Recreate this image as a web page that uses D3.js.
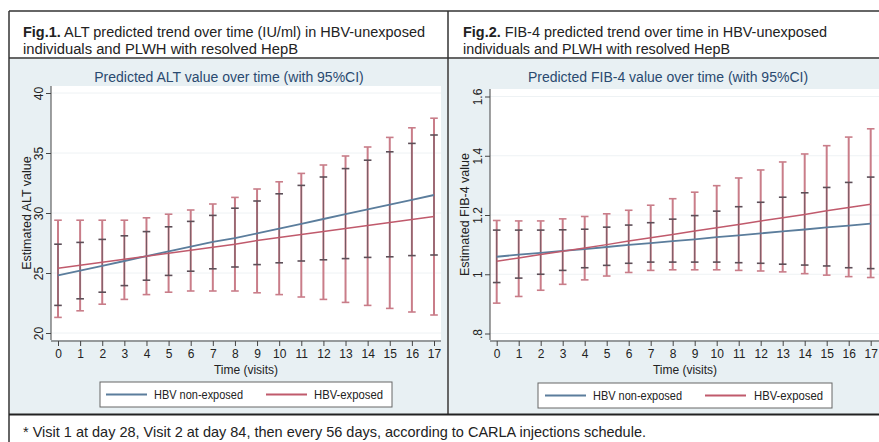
<!DOCTYPE html>
<html>
<head>
<meta charset="utf-8">
<script src="https://cdn.jsdelivr.net/npm/d3@7"></script>
<style>
html,body{margin:0;padding:0;background:#fff;}
svg{display:block;font-family:"Liberation Sans",Arial,sans-serif;}
</style>
</head>
<body>
<svg id="c" width="879" height="442"></svg>
<script>
// ---------- DATA ----------
const visits = [0,1,2,3,4,5,6,7,8,9,10,11,12,13,14,15,16,17];

// Fig.1 ALT
const altNonExpMean = [24.8,25.2,25.6,26.0,26.4,26.8,27.2,27.6,27.9,28.3,28.7,29.1,29.5,29.9,30.3,30.7,31.1,31.5];
const altNonExpLo   = [22.3,22.85,23.4,23.95,24.4,24.8,25.15,25.35,25.5,25.7,25.85,26.0,26.1,26.2,26.3,26.35,26.45,26.5];
const altNonExpHi   = [27.4,27.55,27.8,28.1,28.45,28.85,29.3,29.8,30.4,31.0,31.6,32.3,33.0,33.7,34.4,35.1,35.8,36.5];
const altExpMean    = [25.4,25.65,25.9,26.15,26.4,26.65,26.9,27.15,27.4,27.7,27.95,28.2,28.45,28.7,28.95,29.2,29.45,29.7];
const altExpLo      = [21.3,21.85,22.4,22.8,23.2,23.4,23.5,23.5,23.5,23.35,23.2,23.0,22.8,22.55,22.3,22.05,21.75,21.5];
const altExpHi      = [29.4,29.4,29.4,29.4,29.6,29.9,30.25,30.75,31.3,32.0,32.6,33.3,34.0,34.75,35.5,36.3,37.1,37.9];
const altTicks = [20,25,30,35,40];

// Fig.2 FIB-4
const fibNonExpMean = [1.059,1.066,1.072,1.079,1.085,1.092,1.099,1.105,1.112,1.118,1.125,1.131,1.138,1.145,1.151,1.158,1.164,1.171];
const fibNonExpLo   = [0.972,0.987,1.0,1.013,1.022,1.03,1.037,1.041,1.041,1.041,1.041,1.039,1.037,1.034,1.031,1.028,1.022,1.019];
const fibNonExpHi   = [1.149,1.149,1.149,1.15,1.152,1.159,1.166,1.174,1.186,1.198,1.213,1.228,1.243,1.26,1.275,1.293,1.31,1.328];
const fibExpMean    = [1.044,1.055,1.067,1.078,1.089,1.100,1.112,1.123,1.134,1.146,1.157,1.168,1.180,1.191,1.202,1.214,1.225,1.236];
const fibExpLo      = [0.9025,0.925,0.946,0.966,0.981,0.994,1.006,1.013,1.015,1.015,1.015,1.013,1.011,1.008,1.002,0.997,0.992,0.989];
const fibExpHi      = [1.1815,1.18,1.18,1.187,1.195,1.204,1.216,1.233,1.255,1.277,1.299,1.325,1.352,1.379,1.406,1.434,1.463,1.491];
const fibTicks = [0.8,1.0,1.2,1.4,1.6];
const fibTickLabels = [".8","1","1.2","1.4","1.6"];

const seriesNames = ["HBV non-exposed","HBV-exposed"];
const fig1Title = ["Fig.1.", " ALT predicted trend over time (IU/ml) in HBV-unexposed", "individuals and PLWH  with resolved HepB"];
const fig2Title = ["Fig.2.", " FIB-4 predicted trend over time in HBV-unexposed", "individuals and PLWH  with resolved HepB"];
const footnote = "* Visit 1 at day 28, Visit 2 at day 84, then every 56 days, according to CARLA injections schedule.";

// ---------- STYLE ----------
const C = {
  panel:"#e8f0f3", grid:"#eef2f4", axis:"#444", text:"#222", title:"#2a4a70",
  blue:"#5b7d9c", red:"#c05a6c", ciRed:"#c97d89", ciDark:"#5d4f58", frame:"#333"
};

const svg = d3.select("#c");

svg.append("rect").attr("x",0).attr("y",0).attr("width",879).attr("height",442).attr("fill","#fff");
svg.append("rect").attr("x",10).attr("y",59).attr("width",437).attr("height",355).attr("fill",C.panel);
svg.append("rect").attr("x",449).attr("y",59).attr("width",430).attr("height",355).attr("fill",C.panel);

function frameLine(x1,y1,x2,y2,w,col){
  svg.append("line").attr("x1",x1).attr("y1",y1).attr("x2",x2).attr("y2",y2)
    .attr("stroke",col||C.frame).attr("stroke-width",w);
}
frameLine(9,11,879,11,1.5);
frameLine(9,11,9,442,1.5);
frameLine(448,11,448,414,1.5);
frameLine(9,58,879,58,1.5);
frameLine(9,414.5,879,414.5,2.2,"#222");

function header(x, parts, w1, w2){
  const t = svg.append("text").attr("x",x).attr("y",37).attr("font-size",14).attr("fill",C.text)
    .attr("textLength",w1).attr("lengthAdjust","spacingAndGlyphs");
  t.append("tspan").attr("font-weight","bold").text(parts[0]);
  t.append("tspan").text(parts[1]);
  svg.append("text").attr("x",x).attr("y",54).attr("font-size",14).attr("fill",C.text)
    .attr("textLength",w2).attr("lengthAdjust","spacingAndGlyphs").text(parts[2]);
}
header(23, fig1Title, 402, 275);
header(463, fig2Title, 364, 267);

svg.append("text").attr("x",23).attr("y",437).attr("font-size",14.5).attr("fill",C.text)
  .attr("textLength",623).attr("lengthAdjust","spacingAndGlyphs").text(footnote);

// ---------- CHART FUNCTION ----------
function chart(cfg){
  const g = svg.append("g");
  const x = d3.scaleLinear().domain([0,17]).range(cfg.xr);
  const y = d3.scaleLinear().domain(cfg.yd).range(cfg.yr);

  g.append("rect").attr("x",cfg.px0).attr("y",cfg.py0).attr("width",cfg.px1-cfg.px0).attr("height",cfg.py1-cfg.py0).attr("fill","#fff");

  g.append("g").selectAll("line").data(cfg.ticks).join("line")
    .attr("x1",cfg.px0).attr("x2",cfg.px1).attr("y1",d=>y(d)).attr("y2",d=>y(d))
    .attr("stroke",C.grid).attr("stroke-width",1);

  g.append("text").attr("x",cfg.titleX).attr("y",82).attr("text-anchor","middle")
    .attr("font-size",14).attr("fill",C.title).text(cfg.title);

  // y axis
  const ya = d3.axisLeft(y).tickValues(cfg.ticks).tickSize(5).tickPadding(4).tickFormat((d,i)=>cfg.tickLabels[i]);
  const yg = g.append("g").attr("transform",`translate(${cfg.px0},0)`).call(ya);
  yg.select(".domain").attr("d",`M0,${cfg.py0}V${cfg.py1}`).attr("stroke",C.axis);
  yg.selectAll(".tick line").attr("stroke",C.axis);
  yg.selectAll(".tick text").attr("font-size",12).attr("fill",C.text)
    .attr("x",null).attr("y",0).attr("dy",null).attr("text-anchor","middle")
    .attr("transform","translate(-8,0) rotate(-90)");

  g.append("text").attr("transform",`translate(${cfg.ytX},${(cfg.py0+cfg.py1)/2}) rotate(-90)`)
    .attr("text-anchor","middle").attr("dy","0.35em").attr("font-size",12.5).attr("fill",C.text).text(cfg.ytitle);

  // x axis
  const xa = d3.axisBottom(x).tickValues(visits).tickSize(5).tickPadding(3).tickFormat(d3.format("d"));
  const xg = g.append("g").attr("transform",`translate(0,${cfg.axY})`).call(xa);
  xg.select(".domain").attr("d",`M${cfg.px0},0H${cfg.px1}`).attr("stroke",C.axis);
  xg.selectAll(".tick line").attr("stroke",C.axis);
  xg.selectAll(".tick text").attr("font-size",12).attr("fill",C.text);
  g.append("text").attr("x",(cfg.px0+cfg.px1)/2).attr("y",cfg.axY+33).attr("text-anchor","middle")
    .attr("font-size",12).attr("fill",C.text).text("Time (visits)");

  function ci(lo,hi,color,w,cap){
    const bg = g.append("g");
    bg.selectAll("line.v").data(visits).join("line").attr("class","v")
      .attr("x1",d=>x(d)).attr("x2",d=>x(d)).attr("y1",(d,i)=>y(lo[i])).attr("y2",(d,i)=>y(hi[i]))
      .attr("stroke",color).attr("stroke-width",w);
    [lo,hi].forEach(arr=>{
      bg.selectAll(null).data(visits).join("line")
        .attr("x1",d=>x(d)-cap).attr("x2",d=>x(d)+cap).attr("y1",(d,i)=>y(arr[i])).attr("y2",(d,i)=>y(arr[i]))
        .attr("stroke",color).attr("stroke-width",1.6);
    });
  }
  ci(cfg.eLo,cfg.eHi,C.ciRed,2,3.8);
  ci(cfg.nLo,cfg.nHi,C.ciDark,0.8,3.8);

  const line = d3.line().x((d,i)=>x(visits[i])).y(d=>y(d));
  g.append("path").datum(cfg.nMean).attr("d",line).attr("fill","none").attr("stroke",C.blue).attr("stroke-width",1.8);
  g.append("path").datum(cfg.eMean).attr("d",line).attr("fill","none").attr("stroke",C.red).attr("stroke-width",1.5);

  // legend
  const L = cfg.leg;
  g.append("rect").attr("x",L.x).attr("y",L.y).attr("width",L.w).attr("height",25)
    .attr("fill","#fff").attr("stroke","#666").attr("stroke-width",1);
  const items = [{c:C.blue,lx:L.l1,tx:L.t1,w:89,name:seriesNames[0]},{c:C.red,lx:L.l2,tx:L.t2,w:69,name:seriesNames[1]}];
  items.forEach(it=>{
    g.append("line").attr("x1",it.lx).attr("x2",it.lx+41).attr("y1",L.y+12.5).attr("y2",L.y+12.5)
      .attr("stroke",it.c).attr("stroke-width",1.8);
    g.append("text").attr("x",it.tx).attr("y",L.y+12.5).attr("dy","0.35em").attr("font-size",12.5)
      .attr("textLength",it.w).attr("lengthAdjust","spacingAndGlyphs")
      .attr("fill",C.text).text(it.name);
  });
}

chart({
  xr:[58,434], yd:[20,40], yr:[333,93], px0:51, px1:441, py0:86, py1:340, axY:341,
  ticks:altTicks, tickLabels:altTicks.map(String), title:"Predicted ALT value over time (with 95%CI)", titleX:229,
  ytitle:"Estimated ALT value", ytX:27,
  nMean:altNonExpMean, nLo:altNonExpLo, nHi:altNonExpHi, eMean:altExpMean, eLo:altExpLo, eHi:altExpHi,
  leg:{x:100,y:382,w:292,l1:106,t1:154,l2:266,t2:314}
});
chart({
  xr:[496.7,870.7], yd:[0.8,1.6], yr:[333.5,96.5], px0:490, px1:880, py0:89, py1:340, axY:341,
  ticks:fibTicks, tickLabels:fibTickLabels, title:"Predicted FIB-4 value over time (with 95%CI)", titleX:668,
  ytitle:"Estimated FIB-4 value", ytX:465,
  nMean:fibNonExpMean, nLo:fibNonExpLo, nHi:fibNonExpHi, eMean:fibExpMean, eLo:fibExpLo, eHi:fibExpHi,
  leg:{x:538,y:383,w:294,l1:545,t1:593,l2:705,t2:754}
});
</script>
</body>
</html>
